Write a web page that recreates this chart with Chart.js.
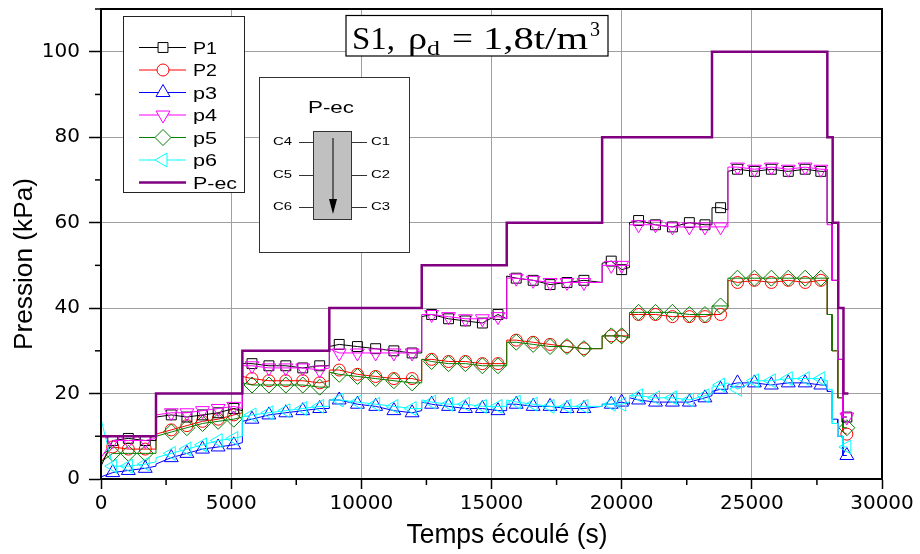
<!DOCTYPE html>
<html>
<head>
<meta charset="utf-8">
<script src="https://cdn.jsdelivr.net/npm/chart.js@4.4.0/dist/chart.umd.min.js"></script>
<style>
  html, body { margin: 0; padding: 0; background: #fff; }
</style>
</head>
<body>
<canvas id="graf" width="920" height="554"></canvas>
<script>
// temps (s) des points des capteurs ; un temps répété = saut de palier
const temps = [
  0, 450, 1050, 1700, 2113,
  2113, 2700, 3300, 3900, 4500, 5100, 5430,
  5430, 5800, 6450, 7100, 7750, 8400, 8770,
  8770, 9150, 9850, 10550, 11250, 11950, 12320,
  12320, 12700, 13350, 14000, 14650, 15250, 15585,
  15585, 15950, 16600, 17250, 17900, 18550, 19250,
  19250, 19600, 20000, 20300,
  20300, 20650, 21300, 21950, 22600, 23200, 23470,
  23470, 23800, 24080,
  24080, 24450, 25100, 25750, 26400, 27050, 27650, 27900,
  27900, 28080, 28080, 28300, 28300, 28500, 28500, 28650
];

const p1 = [
  3, 9, 9.5, 9, 9,
  14.5, 15, 14.5, 15, 15.5, 16.5, 16,
  27, 27, 26.5, 26.5, 26, 26.5, 26.5,
  31, 31.5, 31, 30.5, 30, 29.5, 29.5,
  38, 38.5, 37.5, 37, 36.5, 38.5, 37.5,
  47.5, 47, 46.5, 45.5, 46, 46.5, 46,
  50.5, 51, 49, 49.5,
  60, 60.5, 59.5, 59, 60, 59.5, 59.5,
  63.5, 63.5, 63,
  72, 72.5, 72, 72.5, 72, 72.5, 72, 72,
  60, 60, 46.5, 46.5, 28, 28, 14.5, 14.5
];
const p2 = [
  4, 7.5, 7, 7, 7,
  10.5, 11.5, 12.5, 13.5, 14, 15, 15.5,
  24, 23.5, 23, 23, 23, 22.5, 23,
  25.5, 25.5, 24.5, 24, 23.5, 23.5, 23,
  28, 28, 27.5, 27.5, 27, 27, 27,
  32.5, 32.5, 32, 31.5, 31, 30.5, 30.5,
  33.5, 33.5, 33.5, 33.5,
  38.5, 38.5, 38.5, 38, 38, 38, 38.5,
  38.5, 38.5, 40,
  46.5, 46, 46.5, 46, 46.5, 46, 46.5, 46.5,
  38.5, 38.5, 30, 30, 19, 19, 11, 10.5
];
const p3 = [
  0.5, 1.5, 2, 2.5, 3,
  3.5, 5, 6, 7, 7.5, 8, 8.5,
  13.5, 14, 15, 15.5, 16, 16.5, 16.5,
  18.5, 18.5, 17.5, 17, 16, 15.5, 16,
  18, 17.5, 17, 16.5, 16.5, 16, 16,
  17.5, 17.5, 17, 17, 16.5, 16.5, 17,
  17.5, 17.5, 18, 17.5,
  19, 18.5, 18, 18, 18, 19, 19.5,
  20.5, 21, 21,
  22, 22.5, 22.5, 22, 22.5, 22.5, 22, 22,
  20.5, 20.5, 14, 14, 10, 10, 5.5, 5.5
];
const p4 = [
  5, 9, 9, 9, 9.5,
  15, 15.5, 15.5, 16, 16.5, 17, 16.5,
  26.5, 26.5, 26, 26, 26, 25.5, 26,
  30.5, 29.5, 29.5, 29.5, 29.5, 29.5, 30,
  38.5, 38.5, 38, 37.5, 37.5, 38, 37.5,
  47, 47, 46.5, 46, 46, 46, 46,
  50, 50, 50, 50,
  59.5, 59.5, 59.5, 59, 59, 59, 59,
  59, 59, 59,
  73, 73, 72.5, 73, 72.5, 73, 72.5, 72.5,
  59.5, 59.5, 46.5, 46.5, 28, 28, 14.5, 14.5
];
const p5 = [
  4, 6, 6, 6, 6,
  10, 11, 12, 13, 13.5, 14, 14.5,
  22.5, 22, 22, 22, 22, 21.5, 21.5,
  25, 24.5, 24, 23.5, 23, 22.5, 22.5,
  28, 27.5, 27, 27, 26.5, 26.5, 26.5,
  32, 32, 31.5, 31, 31, 30.5, 30.5,
  33.5, 33.5, 33.5, 33,
  39, 39, 39, 39, 38.5, 38.5, 38.5,
  40.5, 40.5, 40.5,
  47, 47, 47, 47, 47, 47, 47, 47,
  38.5, 38.5, 30, 30, 19, 19, 12, 12
];
const p6 = [
  14, 3, 3, 3.5, 4,
  5, 6, 7, 8, 9, 9.5, 10,
  14.5, 15, 15.5, 16, 16.5, 17, 17,
  18.5, 18.5, 18, 17.5, 17, 16.5, 16.5,
  18.5, 18, 17.5, 17.5, 17, 17, 17,
  18.5, 18, 17.5, 17, 17, 17, 17,
  17.5, 17.5, 17.5, 18,
  19.5, 19.5, 19, 19, 18.5, 19.5, 20,
  21.5, 22, 22.5,
  22.5, 21, 23, 23, 23.5, 23.5, 23.5, 23,
  21, 21, 13, 13, 10, 10, 7.5, 7.5
];

// consigne P-ec (palier qui commence à chaque temps)
const tempsPec = [0, 2113, 5430, 8770, 12320, 15585, 19250, 23470, 27900, 28105, 28320, 28520, 28710];
const pec = [10, 20, 30, 40, 50, 60, 80, 100, 80, 60, 40, 20, 20];

const ticksX = [0, 5000, 10000, 15000, 20000, 25000, 30000];
const ticksY = [0, 20, 40, 60, 80, 100];

// pas de marqueur sur les points de saut
const sansMarqueur = i => i === 0 || temps[i] === temps[i - 1] || temps[i] === temps[i + 1];

function serie(label, vals, couleur, style, r, rot, ordre) {
  return {
    label: label,
    data: temps.map((t, i) => ({ x: t, y: vals[i] })),
    borderColor: couleur,
    borderWidth: 1,
    pointStyle: style,
    pointRotation: rot,
    pointRadius: ctx => sansMarqueur(ctx.dataIndex) ? 0 : r,
    pointBorderColor: couleur,
    pointBorderWidth: 1,
    pointBackgroundColor: 'rgba(0,0,0,0)',
    tension: 0,
    order: ordre
  };
}

const datasets = [
  serie('P1', p1, '#000000', 'rect', 7, 0, 4),
  serie('P2', p2, '#ff0000', 'circle', 6, 0, 6),
  serie('p3', p3, '#0000ff', 'triangle', 8, 0, 2),
  serie('p4', p4, '#ff00ff', 'triangle', 8, 180, 3),
  serie('p5', p5, '#008000', 'rectRot', 8, 0, 5),
  serie('p6', p6, '#00ffff', 'triangle', 8, -90, 1),
  {
    label: 'P-ec',
    data: tempsPec.map((t, i) => ({ x: t, y: pec[i] })),
    borderColor: '#800080',
    borderWidth: 2.5,
    pointRadius: 0,
    stepped: true,
    order: 0
  }
];

// texte étiré horizontalement pour tenir une largeur donnée
function texte(ctx, s, x, y, police, largeur, align) {
  ctx.save();
  ctx.font = police;
  const w = ctx.measureText(s).width;
  const k = largeur ? largeur / w : 1;
  ctx.translate(x, y);
  ctx.scale(k, 1);
  ctx.textAlign = align || 'left';
  ctx.textBaseline = 'alphabetic';
  ctx.fillText(s, 0, 0);
  ctx.restore();
}

function trait(ctx, x1, y1, x2, y2) {
  ctx.beginPath();
  ctx.moveTo(x1, y1);
  ctx.lineTo(x2, y2);
  ctx.stroke();
}

const decor = {
  id: 'decor',
  afterDraw(chart) {
    const ctx = chart.ctx, a = chart.chartArea;
    const sx = chart.scales.x, sy = chart.scales.y;
    const sans = '"Liberation Sans", Arial, sans-serif';
    ctx.save();
    ctx.fillStyle = '#000';

    // cadre
    ctx.strokeStyle = '#000';
    ctx.lineWidth = 2;
    ctx.strokeRect(a.left, a.top, a.right - a.left, a.bottom - a.top);

    // graduations secondaires
    ctx.lineWidth = 1.5;
    for (let v = 10; v <= 110; v += 20) {
      const y = sy.getPixelForValue(v);
      trait(ctx, a.left - 6, y, a.left, y);
    }
    for (let t = 2500; t < 30000; t += 5000) {
      const x = sx.getPixelForValue(t);
      trait(ctx, x, a.bottom, x, a.bottom + 6);
    }

    // titres des axes
    texte(ctx, 'Temps écoulé (s)', 507, 543, '27px ' + sans, 201, 'center');
    ctx.save();
    ctx.translate(31.5, 264);
    ctx.rotate(-Math.PI / 2);
    texte(ctx, 'Pression (kPa)', 0, 0, '26px ' + sans, 172, 'center');
    ctx.restore();

    // légende
    ctx.fillStyle = '#fff';
    ctx.fillRect(123.5, 16.5, 121, 176);
    ctx.strokeStyle = '#222';
    ctx.lineWidth = 1;
    ctx.strokeRect(123.5, 16.5, 121, 176);
    chart.data.datasets.forEach((ds, i) => {
      const y = 47.5 + i * 22.5;
      ctx.strokeStyle = ds.borderColor;
      ctx.lineWidth = ds.label === 'P-ec' ? 2.5 : 1;
      trait(ctx, 139, y, 186, y);
      if (ds.label !== 'P-ec' && Chart.helpers && Chart.helpers.drawPoint) {
        ctx.fillStyle = '#fff';
        ctx.lineWidth = 1;
        const r = ds.pointStyle === 'circle' ? 6 : (ds.pointStyle === 'rect' ? 7 : 8);
        Chart.helpers.drawPoint(ctx, {
          pointStyle: ds.pointStyle, rotation: ds.pointRotation, radius: r, borderWidth: 1
        }, 163, y);
      }
      ctx.fillStyle = '#000';
      const larg = ds.label === 'P-ec' ? 44 : 24;
      texte(ctx, ds.label, 193, y + 6, '16px ' + sans, larg);
    });

    // schéma de l'éprouvette
    ctx.fillStyle = '#fff';
    ctx.fillRect(259.5, 77.5, 150, 175);
    ctx.strokeStyle = '#333';
    ctx.lineWidth = 1;
    ctx.strokeRect(259.5, 77.5, 150, 175);
    ctx.fillStyle = '#000';
    texte(ctx, 'P-ec', 331, 113, '17px ' + sans, 46, 'center');
    ctx.fillStyle = '#c0c0c0';
    ctx.fillRect(313.5, 131.5, 38, 88);
    ctx.strokeRect(313.5, 131.5, 38, 88);
    ctx.strokeStyle = '#000';
    trait(ctx, 333, 138, 333, 204);
    ctx.fillStyle = '#000';
    ctx.beginPath();
    ctx.moveTo(329, 199);
    ctx.lineTo(337, 199);
    ctx.lineTo(333, 214);
    ctx.closePath();
    ctx.fill();
    ctx.strokeStyle = '#333';
    const capteurs = [['C4', 'C1', 142], ['C5', 'C2', 175], ['C6', 'C3', 207]];
    capteurs.forEach(c => {
      trait(ctx, 299, c[2] + 0.5, 313, c[2] + 0.5);
      trait(ctx, 352, c[2] + 0.5, 367, c[2] + 0.5);
      texte(ctx, c[0], 292, c[2] + 3, '11px ' + sans, 19, 'right');
      texte(ctx, c[1], 371, c[2] + 3, '11px ' + sans, 19, 'left');
    });

    // cartouche titre
    ctx.fillStyle = '#fff';
    ctx.fillRect(346, 15.5, 262, 40.5);
    ctx.strokeStyle = '#000';
    ctx.lineWidth = 1.2;
    ctx.strokeRect(346, 15.5, 262, 40.5);
    ctx.fillStyle = '#000';
    const serif = '"Liberation Serif", "Times New Roman", serif';
    texte(ctx, 'S1,', 352, 49, '31px ' + serif, 43);
    texte(ctx, 'ρ', 408, 49, '31px ' + serif, 19);
    texte(ctx, 'd', 427, 55, '20px ' + serif, 13);
    texte(ctx, '=', 452, 49, '31px ' + serif, 21);
    texte(ctx, '1,8t/m', 483, 49, '31px ' + serif, 105);
    texte(ctx, '3', 590, 36, '20px ' + serif, 10);

    ctx.restore();
  }
};

new Chart(document.getElementById('graf'), {
  type: 'line',
  data: { datasets: datasets },
  options: {
    responsive: false,
    animation: false,
    layout: { padding: { top: 9, right: 38, left: 0, bottom: 0 }, autoPadding: false },
    plugins: { legend: { display: false }, tooltip: { enabled: false } },
    scales: {
      x: {
        type: 'linear',
        min: 0,
        max: 30000,
        afterBuildTicks: s => { s.ticks = ticksX.map(v => ({ value: v })); },
        afterFit: s => { s.height = 75; s.paddingLeft = 0; s.paddingRight = 0; },
        ticks: {
          color: '#000',
          font: { family: '"DejaVu Sans", sans-serif', size: 20 },
          padding: 3,
          maxRotation: 0,
          callback: v => String(v)
        },
        grid: { color: '#a0a0a0', lineWidth: 1, tickLength: 10, tickColor: '#000', tickWidth: 1.5 },
        border: { color: '#000', width: 2 }
      },
      y: {
        min: 0,
        max: 110,
        afterBuildTicks: s => { s.ticks = ticksY.map(v => ({ value: v })); },
        afterFit: s => { s.width = 101; s.paddingTop = 0; s.paddingBottom = 0; },
        ticks: {
          color: '#000',
          font: { family: '"DejaVu Sans", sans-serif', size: 20 },
          padding: 9,
          callback: v => String(v)
        },
        grid: { color: '#a0a0a0', lineWidth: 1, tickLength: 12, tickColor: '#000', tickWidth: 1.5 },
        border: { color: '#000', width: 2 }
      }
    }
  },
  plugins: [decor]
});
</script>
</body>
</html>
